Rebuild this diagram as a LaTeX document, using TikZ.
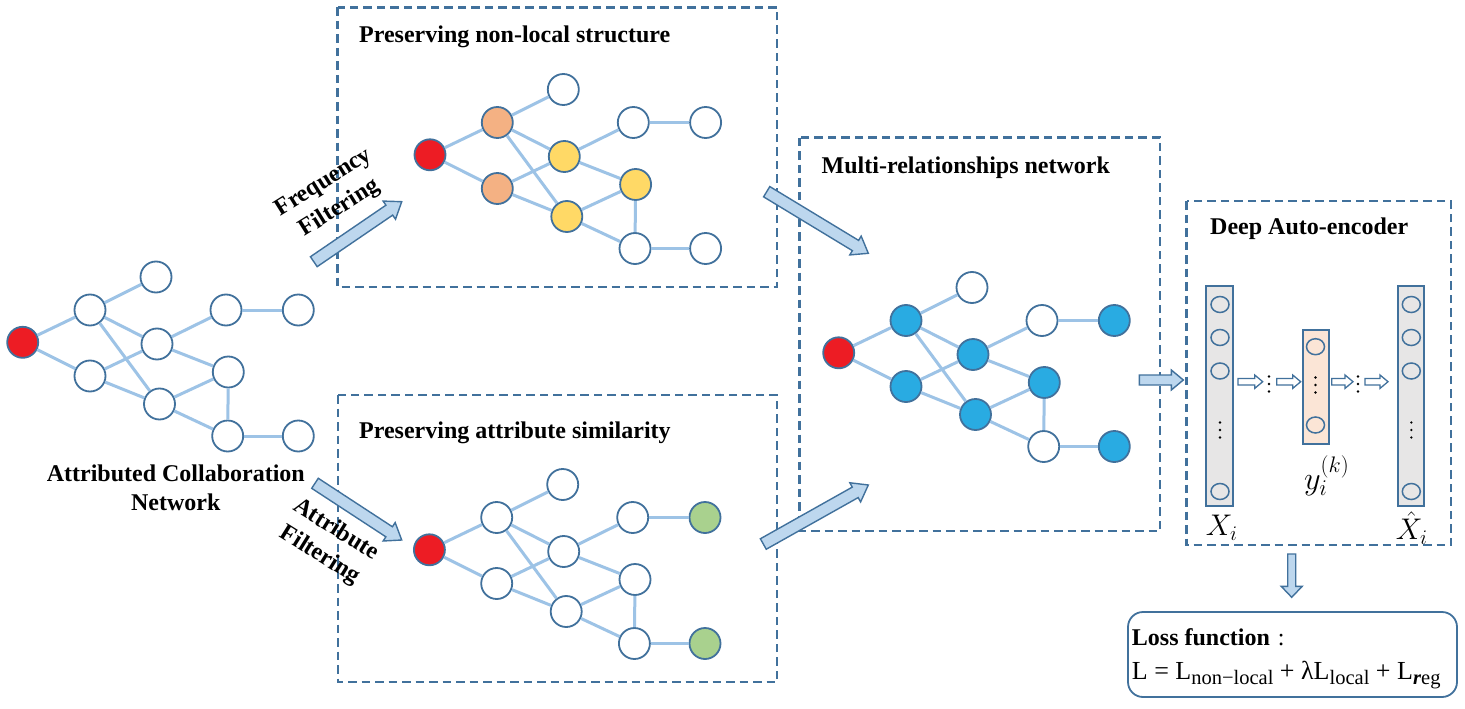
\documentclass[tikz,border=0pt]{standalone}
\usepackage{graphicx}
\usepackage{fontspec}
\setmainfont{Liberation Serif}
\usetikzlibrary{calc,shapes.geometric}
\definecolor{bord}{HTML}{41719C}
\definecolor{edgec}{HTML}{9DC3E6}
\definecolor{afill}{HTML}{BDD7EE}
\definecolor{nred}{HTML}{ED1C24}
\definecolor{norange}{HTML}{F4B183}
\definecolor{nyellow}{HTML}{FFD966}
\definecolor{nblue}{HTML}{29ABE2}
\definecolor{ngreen}{HTML}{A9D18E}
\definecolor{colgray}{HTML}{E7E6E6}
\definecolor{colpeach}{HTML}{FBE5D6}
\tikzset{
  gn/.style={circle, draw=bord, line width=1.8pt, minimum size=31pt, inner sep=0pt, fill=white},
  ge/.style={draw=edgec, line width=3pt},
  dbox/.style={draw=bord, line width=2.2pt, dash pattern=on 8.5pt off 5pt},
  ttl/.style={anchor=base west, font=\fontsize{24}{28}\selectfont\bfseries, inner sep=0pt},
  lbl/.style={align=center, font=\fontsize{24}{30}\selectfont\bfseries, inner sep=0pt},
  bigarrow/.style={draw=bord, fill=afill, line width=1.4pt, line join=miter},
  smallarrow/.style={draw=bord, fill=white, line width=1.3pt, line join=miter},
  colbox/.style={draw=bord, line width=2pt, inner sep=0pt},
  cn/.style={ellipse, draw=bord, line width=1.5pt, minimum width=18pt, minimum height=16pt, inner sep=0pt},
  mlab/.style={font=\fontsize{24}{26}\selectfont, inner sep=0pt},
  c1/.style={}, c2/.style={}, c3/.style={}, c4/.style={}, c5/.style={},
  c6/.style={}, c7/.style={}, c8/.style={}, c9/.style={}, c10/.style={}
}
\newcommand\netg[1]{%
  \node[gn,fill=nred] (#1-r) at (22.7,342.3) {};
  \node[gn,c1] (#1-1) at (90,310) {};
  \node[gn,c2] (#1-2) at (156,277) {};
  \node[gn,c3] (#1-3) at (90,376) {};
  \node[gn,c4] (#1-4) at (157,344) {};
  \node[gn,c5] (#1-5) at (159.5,404) {};
  \node[gn,c6] (#1-6) at (226,310) {};
  \node[gn,c7] (#1-7) at (298.3,310) {};
  \node[gn,c8] (#1-8) at (228.3,372) {};
  \node[gn,c9] (#1-9) at (227.7,436) {};
  \node[gn,c10] (#1-10) at (298.3,436) {};
  \foreach \a/\b in {r/1,r/3,1/2,1/4,1/5,3/4,3/5,4/6,6/7,4/8,5/8,8/9,5/9,9/10}
    \draw[ge] (#1-\a) -- (#1-\b);
}
\newcommand\blockarrow[6]{%
  \coordinate (tmpH) at ($(#3)!#6!(#2)$);
  \draw[#1] ($(#2)!#4!90:(#3)$) -- ($(tmpH)!#4!-90:(#2)$) -- ($(tmpH)!#5!-90:(#2)$)
    -- (#3) -- ($(tmpH)!#5!90:(#2)$) -- ($(tmpH)!#4!90:(#2)$) -- ($(#2)!#4!-90:(#3)$) -- cycle;
}
\newcommand\vdotsat[2]{%
  \fill (#1,#2-7.5) circle (1.3pt) (#1,#2) circle (1.3pt) (#1,#2+7.5) circle (1.3pt);
}
\begin{document}
\begin{tikzpicture}[x=1pt,y=-1pt]
\useasboundingbox (0,0) rectangle (1465,709);
\fill[white] (0,0) rectangle (1465,709);

% dashed boxes
\draw[dbox] (337.5,7.5) rectangle (777,287);
\draw[dbox] (338,395) rectangle (777,682);
\draw[dbox] (799.5,137.5) rectangle (1160,531);
\draw[dbox] (1186.5,201) rectangle (1451,545);

% titles
\node[ttl] (t1) at (359,43) {Preserving non-local structure};
\node[ttl] (t2) at (359,438) {Preserving attribute similarity};
\node[ttl] (t3) at (821.5,173) {Multi-relationships network};
\node[ttl] (t4) at (1210,234) {Deep Auto-encoder};
\node[ttl,anchor=base] (t5a) at (175.8,481.7) {Attributed Collaboration};
\node[ttl,anchor=base] (t5b) at (175.8,510) {Network};

% graphs
\netg{G}
\begin{scope}[shift={(407.3,-187.5)}, c1/.style={fill=norange}, c3/.style={fill=norange},
  c4/.style={fill=nyellow}, c5/.style={fill=nyellow}, c8/.style={fill=nyellow}]
\netg{T}
\end{scope}
\begin{scope}[shift={(406.7,207.5)}, c7/.style={fill=ngreen}, c10/.style={fill=ngreen}]
\netg{B}
\end{scope}
\begin{scope}[shift={(816,10.5)}, c1/.style={fill=nblue}, c3/.style={fill=nblue},
  c4/.style={fill=nblue}, c5/.style={fill=nblue}, c7/.style={fill=nblue},
  c8/.style={fill=nblue}, c10/.style={fill=nblue}]
\netg{M}
\end{scope}

% big arrows
\coordinate (fa) at (313.8,261.7); \coordinate (fb) at (401.7,201.7);
\coordinate (aa) at (315,483.3);   \coordinate (ab) at (401.7,540);
\coordinate (ta) at (766.7,191.7); \coordinate (tb) at (868.3,253.3);
\coordinate (ba) at (763.3,544);   \coordinate (bb) at (868.3,485);
\coordinate (ma) at (1139.3,380);  \coordinate (mb) at (1183.3,380);
\coordinate (da) at (1291.7,554);  \coordinate (db) at (1291.7,597.3);
\blockarrow{bigarrow}{fa}{fb}{6pt}{11pt}{15pt}
\blockarrow{bigarrow}{aa}{ab}{6pt}{11pt}{15pt}
\blockarrow{bigarrow}{ta}{tb}{6pt}{11pt}{15pt}
\blockarrow{bigarrow}{ba}{bb}{6pt}{11pt}{15pt}
\blockarrow{bigarrow}{ma}{mb}{5pt}{10pt}{12pt}
\blockarrow{bigarrow}{da}{db}{4pt}{10.5pt}{11pt}

% arrow labels
\node[lbl,rotate=32] (freq) at (332,196) {Frequency\\Filtering};
\node[lbl,rotate=-32] (attr) at (327.8,543) {Attribute\\Filtering};

% auto-encoder
\node[colbox,fill=colgray,minimum width=27pt,minimum height=220pt] (cin) at (1219.7,395.7) {};
\node[colbox,fill=colpeach,minimum width=26pt,minimum height=114pt] (cmid) at (1315.5,386.7) {};
\node[colbox,fill=colgray,minimum width=26pt,minimum height=220pt] (cout) at (1411.3,396.3) {};
\foreach \y [count=\i] in {304.5,337.5,371,491.5}{
  \node[cn] (in\i) at (1220,\y) {};
  \node[cn] (out\i) at (1411.3,\y) {};
}
\node[cn] (mid1) at (1315.5,346.7) {};
\node[cn] (mid2) at (1315.5,425) {};
\vdotsat{1220}{430}
\vdotsat{1411.3}{430}
\vdotsat{1315.5}{385}
\vdotsat{1269}{384}
\vdotsat{1358}{384}
\coordinate (s1a) at (1238,381.7);   \coordinate (s1b) at (1262.7,381.7);
\coordinate (s2a) at (1276.7,381.7); \coordinate (s2b) at (1300.7,381.7);
\coordinate (s3a) at (1331.7,381.7); \coordinate (s3b) at (1353,381.7);
\coordinate (s4a) at (1365,381.7);   \coordinate (s4b) at (1388,381.7);
\blockarrow{smallarrow}{s1a}{s1b}{3.3pt}{6.7pt}{8pt}
\blockarrow{smallarrow}{s2a}{s2b}{3.3pt}{6.7pt}{8pt}
\blockarrow{smallarrow}{s3a}{s3b}{3.3pt}{6.7pt}{8pt}
\blockarrow{smallarrow}{s4a}{s4b}{3.3pt}{6.7pt}{8pt}
\node[mlab] (xi) at (1221.7,528) {\scalebox{1.2}{$X_i$}};
\node[mlab] (yk) at (1326.7,476) {\scalebox{1.3}{$y_i^{(k)}$}};
\node[mlab] (xh) at (1411.7,528) {\scalebox{1.2}{$\hat{X}_i$}};

% loss box
\draw[draw=bord, line width=1.8pt, rounded corners=15pt] (1128,612) rectangle (1457,697);
\node[anchor=base west, inner sep=0pt, font=\fontsize{24}{28}\selectfont] (lf) at (1131.7,645)
  {\textbf{Loss function}\,\,:};
\node[anchor=base west, inner sep=0pt, font=\fontsize{26}{28}\selectfont] (eq) at (1131.7,679)
  {L = L{\fontsize{20.5}{21}\selectfont\raisebox{-5pt}{non−local}} + λL{\fontsize{20.5}{21}\selectfont\raisebox{-5pt}{local}} + L{\fontsize{20.5}{21}\selectfont\raisebox{-5pt}{\textbf{\textit{r}}eg}}};
\end{tikzpicture}
\end{document}
